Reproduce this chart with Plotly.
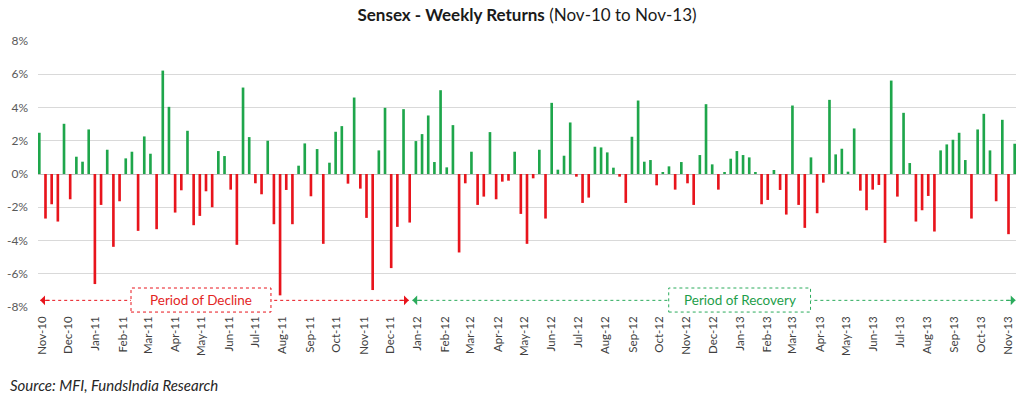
import pandas as pd
import plotly.graph_objects as go

# Weekly Sensex returns (%), Friday closes starting 29-Oct-2010
start_date = "2010-10-29"
weekly_returns = [
    2.48, -2.68, -1.82, -2.86, 3.02, -1.52, 1.04, 0.74, 2.68, -6.62,
    -1.86, 1.46, -4.38, -1.64, 0.94, 1.34, -3.42, 2.26, 1.22, -3.32,
    6.22, 4.04, -2.32, -0.98, 2.60, -3.08, -2.52, -1.04, -2.00, 1.38,
    1.08, -0.94, -4.26, 5.20, 2.22, -0.56, -1.22, 2.00, -3.02, -7.30,
    -0.96, -3.02, 0.50, 1.84, -1.34, 1.50, -4.20, 0.68, 2.54, 2.88,
    -0.58, 4.60, -0.88, -2.64, -6.98, 1.42, 3.98, -5.66, -3.18, 3.90,
    -2.92, 1.98, 2.40, 3.52, 0.72, 5.04, 0.40, 2.94, -4.72, -0.56,
    1.34, -1.86, -1.36, 2.52, -1.52, -0.46, -0.40, 1.34, -2.40, -4.20,
    -0.26, 1.46, -2.68, 4.28, 0.26, 1.10, 3.10, -0.16, -1.74, -1.42,
    1.64, 1.60, 1.30, 0.38, -0.16, -1.74, 2.24, 4.42, 0.74, 0.84,
    -0.68, 0.12, 0.46, -0.94, 0.72, -0.56, -1.86, 1.14, 4.20, 0.58,
    -0.94, 0.10, 0.92, 1.38, 1.14, 1.00, 0.10, -1.82, -1.56, 0.24,
    -0.96, -2.44, 4.12, -1.86, -3.24, 1.00, -2.36, -0.52, 4.46, 1.18,
    1.52, 0.14, 2.74, -1.00, -2.18, -0.94, -0.66, -4.14, 5.62, -1.36,
    3.68, 0.66, -2.86, -2.18, -1.32, -3.46, 1.42, 1.78, 2.06, 2.48,
    0.84, -2.68, 2.68, 3.62, 1.42, -1.64, 3.26, -3.62, 1.82,
]
week_dates = pd.date_range(start_date, periods=len(weekly_returns), freq="7D")

y_ticks = [-8, -6, -4, -2, 0, 2, 4, 6, 8]
y_tick_labels = [f"{v}%" for v in y_ticks]

decline_span = ["2010-10-30", "2011-12-22"]
recovery_span = ["2011-12-26", "2013-11-09"]

GREEN = "#1ea64b"
RED = "#e8141c"
colors = [GREEN if v >= 0 else RED for v in weekly_returns]

fig = go.Figure()
fig.add_trace(go.Bar(
    x=week_dates, y=weekly_returns,
    marker=dict(color=colors, line=dict(width=0)),
    width=3.0 * 86400000,
    hoverinfo="x+y",
))

FONT = "Lato"
fig.update_layout(
    width=1024, height=397,
    margin=dict(l=38, r=8, t=41, b=90, autoexpand=False),
    paper_bgcolor="white", plot_bgcolor="white",
    showlegend=False,
    font=dict(family=FONT, color="#404040"),
    title=dict(
        text="<b>Sensex - Weekly Returns</b> (Nov-10 to Nov-13)",
        x=0.5, xanchor="center", y=0.962, yanchor="middle",
        xref="paper",
        font=dict(family=FONT, size=17, color="#1a1a1a"),
    ),
    xaxis=dict(
        type="date",
        range=["2010-10-27 12:00", "2013-11-09 12:00"],
        tick0="2010-11-01", dtick="M1", tickformat="%b-%y",
        tickangle=-90, showgrid=False, zeroline=False,
        ticks="", showline=False,
        tickfont=dict(family=FONT, size=11.5, color="#404040"),
        ticklabelstandoff=6,
    ),
    yaxis=dict(
        range=[-8, 8], tickvals=y_ticks, ticktext=y_tick_labels,
        showgrid=True, gridcolor="#d9d9d9", gridwidth=1,
        zeroline=True, zerolinecolor="#bfbfbf", zerolinewidth=1,
        tickfont=dict(family=FONT, size=12, color="#595959"),
        ticks="", ticklabelstandoff=9,
    ),
)

arrow_y = 0.025
shapes = []
annotations = []
for span, col in [(decline_span, RED), (recovery_span, "#2bab5c")]:
    shapes.append(dict(type="line", xref="x", yref="paper",
                       x0=span[0], x1=span[1], y0=arrow_y, y1=arrow_y,
                       line=dict(color=col, width=1, dash="dot")))
    annotations.append(dict(xref="x", yref="paper", x=span[0], y=arrow_y,
                            ax=11, ay=0, showarrow=True, arrowhead=1,
                            arrowsize=1.6, arrowwidth=1, arrowcolor=col, text=""))
    annotations.append(dict(xref="x", yref="paper", x=span[1], y=arrow_y,
                            ax=-11, ay=0, showarrow=True, arrowhead=1,
                            arrowsize=1.6, arrowwidth=1, arrowcolor=col, text=""))

# labelled boxes
for (x0, x1, label, col, tcol) in [
    (0.0951, 0.2382, "Period of Decline", RED, "#e3261f"),
    (0.6449, 0.7899, "Period of Recovery", "#2bab5c", "#1e9e4a"),
]:
    shapes.append(dict(type="rect", xref="paper", yref="paper",
                       x0=x0, x1=x1, y0=-0.019, y1=0.0714,
                       fillcolor="white",
                       line=dict(color=col, width=1, dash="dot")))
    annotations.append(dict(xref="paper", yref="paper", x=(x0 + x1) / 2,
                            y=0.026, xanchor="center", yanchor="middle",
                            text=label, showarrow=False,
                            font=dict(family=FONT, size=13.5, color=tcol)))

annotations.append(dict(xref="paper", yref="paper", x=-0.0307, y=-0.293,
                        xanchor="left", yanchor="middle",
                        text="<i>Source: MFI, FundsIndia Research</i>",
                        showarrow=False,
                        font=dict(family=FONT, size=15, color="#262626")))

fig.update_layout(shapes=shapes, annotations=annotations)
fig.write_html("out.html", config={"displayModeBar": False},
               post_script="document.body.style.margin='0';")
